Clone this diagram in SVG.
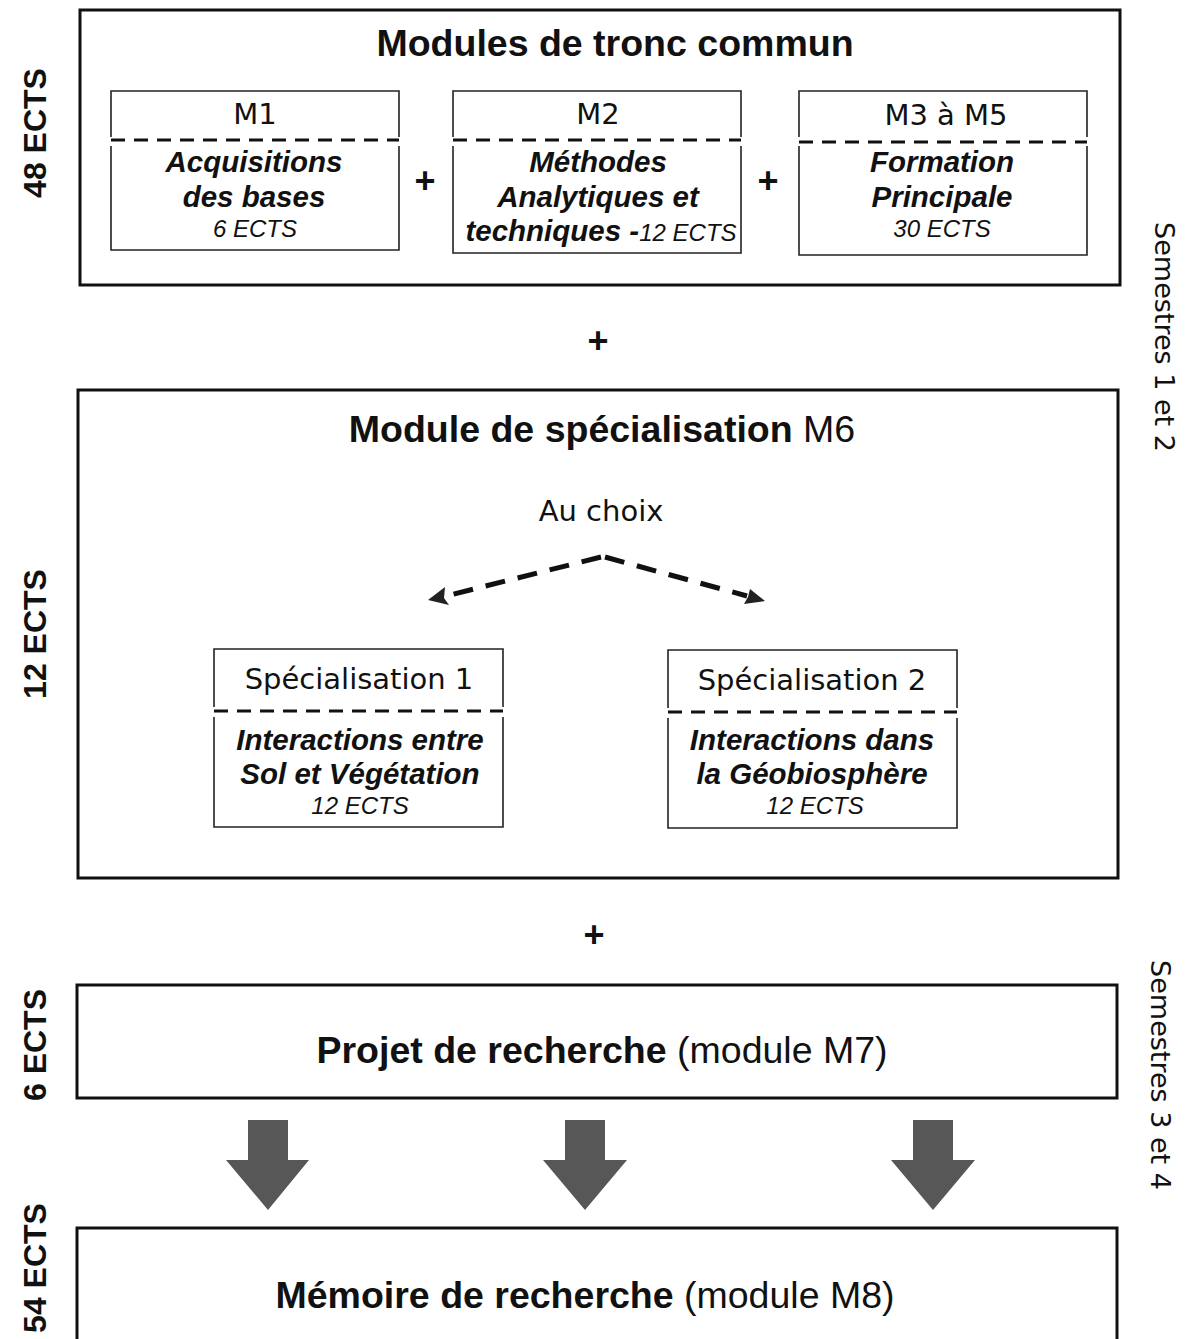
<svg xmlns="http://www.w3.org/2000/svg" width="1185" height="1339" viewBox="0 0 1185 1339">
<defs>
<style>
.outer{fill:none;stroke:#111;stroke-width:3}
.side{fill:none;stroke:#222;stroke-width:1.6}
.dash{stroke:#111;stroke-width:3;stroke-dasharray:14 9;fill:none}
.lbl{font-family:"DejaVu Sans",sans-serif;font-size:29px;fill:#111;text-anchor:middle}
.bi{font-family:"Liberation Sans",Arial,sans-serif;font-size:29.5px;font-weight:bold;font-style:italic;fill:#111;text-anchor:middle}
.it{font-family:"Liberation Sans",Arial,sans-serif;font-size:24px;font-style:italic;fill:#111;text-anchor:middle}
.title{font-family:"Liberation Sans",Arial,sans-serif;font-size:37.5px;fill:#111;text-anchor:middle}
.b{font-weight:bold}
.plus{font-family:"Liberation Sans",Arial,sans-serif;font-size:36px;font-weight:bold;fill:#111;text-anchor:middle}
.ects{font-family:"Liberation Sans",Arial,sans-serif;font-size:32px;font-weight:bold;fill:#111;text-anchor:middle}
.sem{font-family:"DejaVu Sans",sans-serif;font-size:27px;fill:#111;text-anchor:middle}
.big{fill:#575757}
.arr{stroke:#111;stroke-width:5;stroke-dasharray:20 13;fill:none}
.ahd{fill:#222}
</style>
</defs>

<!-- side labels -->
<text class="ects" transform="translate(46,133) rotate(-90)">48 ECTS</text>
<text class="ects" transform="translate(46,634) rotate(-90)">12 ECTS</text>
<text class="ects" transform="translate(46,1045) rotate(-90)">6 ECTS</text>
<text class="ects" transform="translate(46,1268) rotate(-90)">54 ECTS</text>
<text class="sem" transform="translate(1155,337) rotate(90)">Semestres 1 et 2</text>
<text class="sem" transform="translate(1151,1075) rotate(90)">Semestres 3 et 4</text>

<g id="tronc">
<rect class="outer" x="80" y="10" width="1040" height="275"/>
<text class="title b" x="615" y="56">Modules de tronc commun</text>
</g>

<g id="m1">
<path class="side" d="M111,137 V91 H399 V137 M111,146 V250 H399 V146"/>
<line class="dash" x1="111" y1="140" x2="399" y2="140"/>
<text class="lbl" x="255" y="124">M1</text>
<text class="bi" x="254" y="172">Acquisitions</text>
<text class="bi" x="254" y="207">des bases</text>
<text class="it" x="255" y="237">6 ECTS</text>
</g>
<text class="plus" x="425" y="193">+</text>
<g id="m2">
<path class="side" d="M453,137 V91 H741 V137 M453,146 V253 H741 V146"/>
<line class="dash" x1="453" y1="140" x2="741" y2="140"/>
<text class="lbl" x="598" y="124">M2</text>
<text class="bi" x="598" y="172">Méthodes</text>
<text class="bi" x="598" y="207">Analytiques et</text>
<text class="bi" x="601" y="241">techniques -<tspan font-weight="normal" font-size="24px">12 ECTS</tspan></text>
</g>
<text class="plus" x="768" y="193">+</text>
<g id="m3">
<path class="side" d="M799,137 V91 H1087 V137 M799,146 V255 H1087 V146"/>
<line class="dash" x1="799" y1="142" x2="1087" y2="142"/>
<text class="lbl" x="946" y="125">M3 à M5</text>
<text class="bi" x="942" y="172">Formation</text>
<text class="bi" x="942" y="207">Principale</text>
<text class="it" x="942" y="237">30 ECTS</text>
</g>

<text class="plus" x="598" y="353">+</text>

<g id="m6">
<rect class="outer" x="78" y="390" width="1040" height="488"/>
<text class="title" x="602" y="442"><tspan class="b">Module de spécialisation</tspan> M6</text>
<text class="lbl" x="601" y="521">Au choix</text>
</g>

<g id="connectors">
<path class="arr" d="M601,557 L446,596"/>
<polygon class="ahd" points="428,600 449,605 444,598 445,587"/>
<path class="arr" d="M605,557 L747,596"/>
<polygon class="ahd" points="765,601 750,589 748,597 744,604"/>
<polygon class="big" points="248,1120 288,1120 288,1160 309,1160 268,1210 226,1160 248,1160"/>
<polygon class="big" points="565,1120 605,1120 605,1160 627,1160 585,1210 543,1160 565,1160"/>
<polygon class="big" points="913,1120 953,1120 953,1160 975,1160 933,1210 891,1160 913,1160"/>
</g>

<g id="spec1">
<path class="side" d="M214,707 V649 H503 V707 M214,717 V827 H503 V717"/>
<line class="dash" x1="214" y1="711" x2="503" y2="711"/>
<text class="lbl" x="359" y="689">Spécialisation 1</text>
<text class="bi" x="360" y="750">Interactions entre</text>
<text class="bi" x="360" y="784">Sol et Végétation</text>
<text class="it" x="360" y="814">12 ECTS</text>
</g>
<g id="spec2">
<path class="side" d="M668,708 V650 H957 V708 M668,718 V828 H957 V718"/>
<line class="dash" x1="668" y1="712" x2="957" y2="712"/>
<text class="lbl" x="812" y="690">Spécialisation 2</text>
<text class="bi" x="812" y="750">Interactions dans</text>
<text class="bi" x="812" y="784">la Géobiosphère</text>
<text class="it" x="815" y="814">12 ECTS</text>
</g>

<text class="plus" x="594" y="947">+</text>

<g id="m7">
<rect class="outer" x="77" y="985" width="1040" height="113"/>
<text class="title" x="602" y="1063"><tspan class="b">Projet de recherche</tspan> (module M7)</text>
</g>

<g id="m8">
<rect class="outer" x="77" y="1228" width="1040" height="140"/>
<text class="title" x="585" y="1308"><tspan class="b">Mémoire de recherche</tspan> (module M8)</text>
</g>
</svg>
